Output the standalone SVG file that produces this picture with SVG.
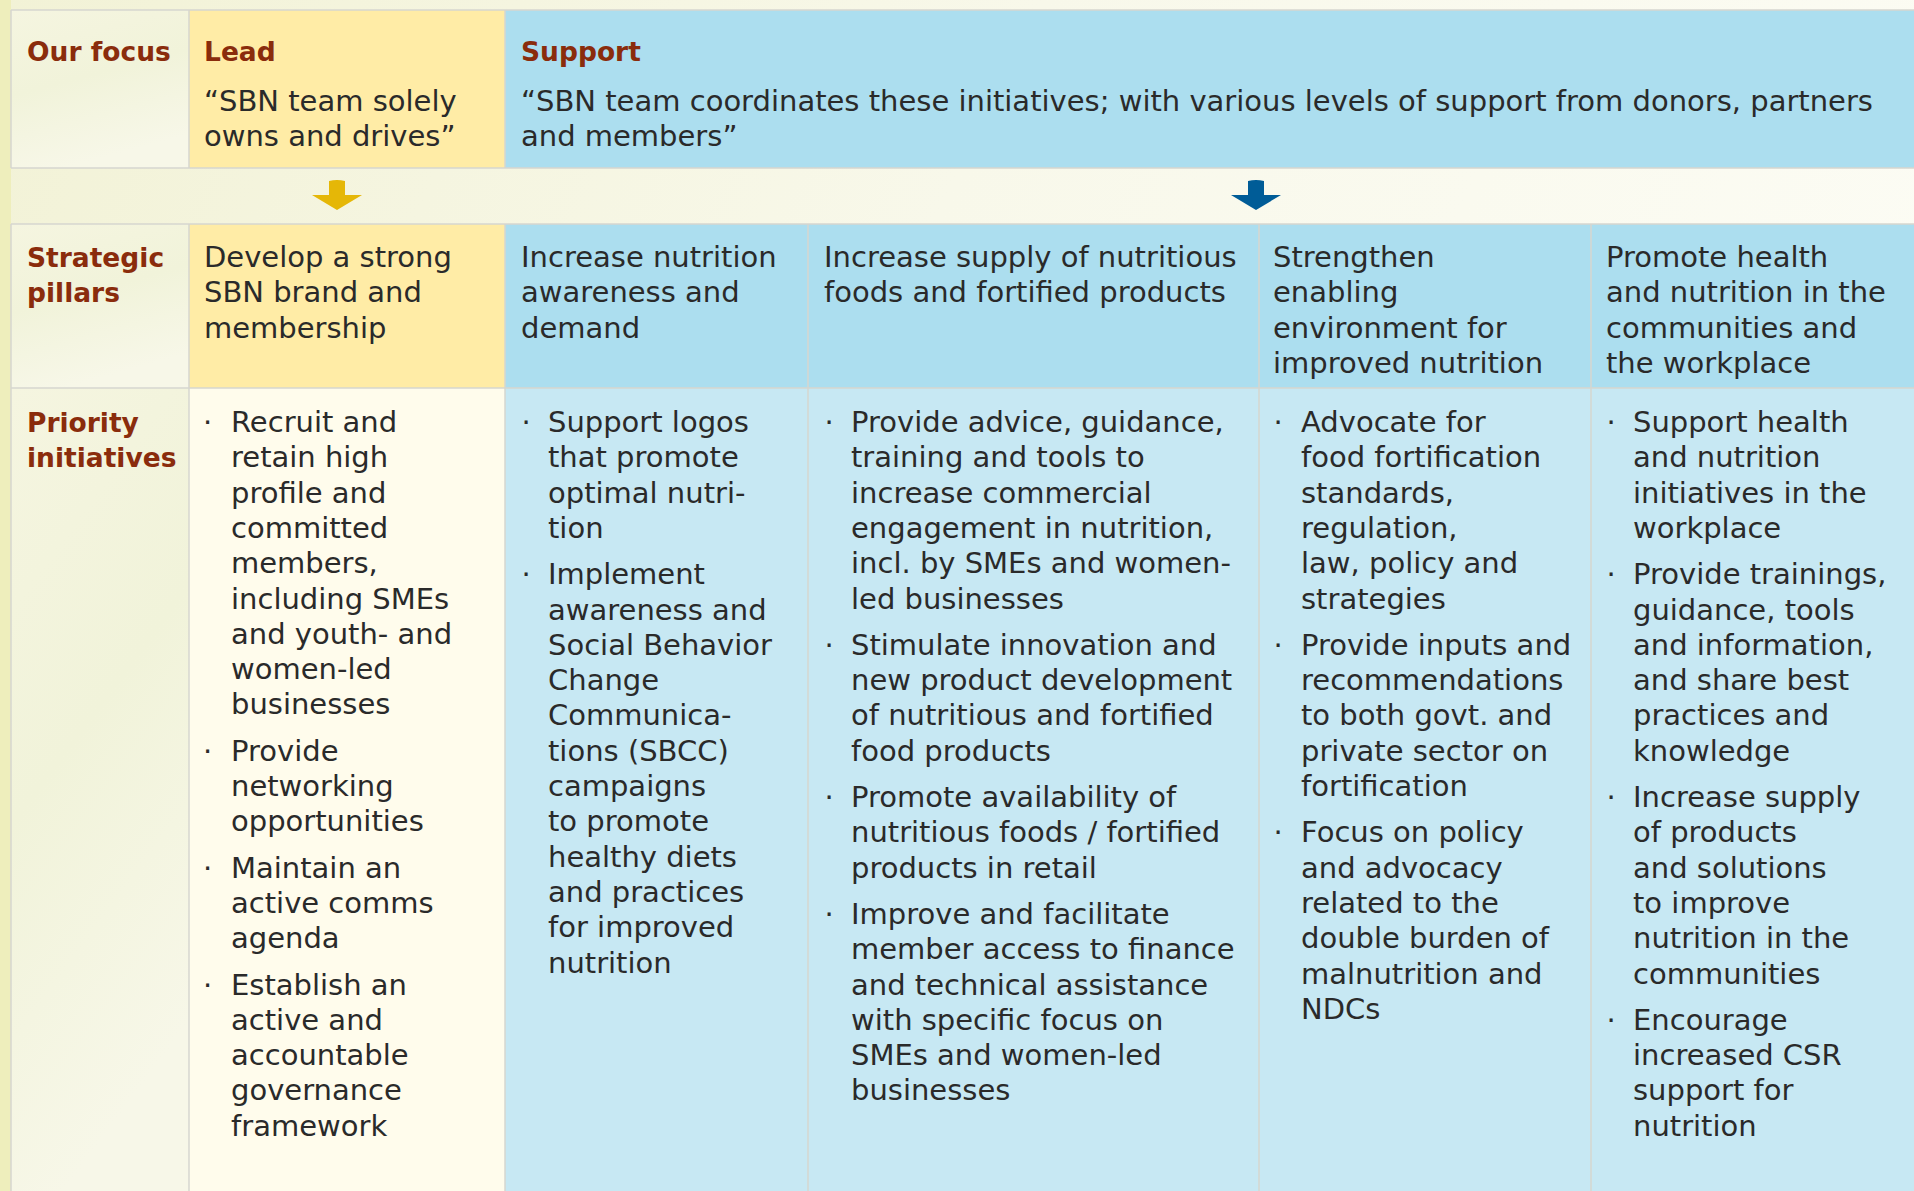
<svg xmlns="http://www.w3.org/2000/svg" width="1914" height="1191" viewBox="0 0 1914 1191">
<defs>
<linearGradient id="bg" x1="0" y1="0" x2="1" y2="0.3">
<stop offset="0" stop-color="#f2f2d6"/>
<stop offset="0.5" stop-color="#f8f8ea"/>
<stop offset="1" stop-color="#fcfcf4"/>
</linearGradient>
<linearGradient id="lab" x1="0" y1="0" x2="0.3" y2="1">
<stop offset="0" stop-color="#f5f5e0"/>
<stop offset="0.5" stop-color="#f1f3da"/>
<stop offset="1" stop-color="#f7f7e8"/>
</linearGradient>
<style>
.t{font-family:"DejaVu Sans",sans-serif;font-size:29px;fill:#2a2a2a}
.h{font-family:"DejaVu Sans",sans-serif;font-size:26.5px;font-weight:bold;fill:#8a2c0c}
.ln{stroke:#d6d6d0;stroke-width:1.5;fill:none}
.yh{fill:#ffeca6}
.yb{fill:#fffcec}
.bh{fill:#acdeef}
.bb{fill:#c7e8f3}
</style>
</defs>
<rect x="0" y="0" width="1914" height="1191" fill="url(#bg)"/>
<rect x="0" y="0" width="11" height="1191" fill="#eeeebc"/>

<g id="cells">
<rect x="11" y="10" width="178" height="158" fill="url(#lab)"/>
<rect x="11" y="224" width="178" height="164" fill="url(#lab)"/>
<rect x="11" y="388" width="178" height="803" fill="url(#lab)"/>
<rect class="yh" x="189" y="10" width="316" height="158"/>
<rect class="bh" x="505" y="10" width="1409" height="158"/>
<rect class="yh" x="189" y="224" width="316" height="164"/>
<rect class="bh" x="505" y="224" width="1409" height="164"/>
<rect class="yb" x="189" y="388" width="316" height="803"/>
<rect class="bb" x="505" y="388" width="1409" height="803"/>
</g>

<g id="connectors">
<path class="ln" d="M11 10H1914M11 168H1914M11 224H1914M11 388H1914M11 10V168M11 224V1191M189 10V168M189 224V1191M505 10V168M505 224V1191M808 224V1191M1259 224V1191M1591 224V1191"/>
<path id="arrow-lead" d="M329 181Q337 179 345 181V195H362L337 210L312 195H329Z" fill="#e5b707"/>
<path id="arrow-support" d="M1248 181Q1256 179 1264 181V195H1281L1256 210L1231 195H1248Z" fill="#005c97"/>
</g>

<g id="row-focus">
<text class="h" x="27" y="61">Our focus</text>
<g id="lead-head"><text class="h" x="204" y="61">Lead</text>
<text class="t" x="204" y="111">“SBN team solely</text>
<text class="t" x="204" y="146">owns and drives”</text></g>
<g id="support-head"><text class="h" x="521" y="61">Support</text>
<text class="t" x="521" y="111">“SBN team coordinates these initiatives; with various levels of support from donors, partners</text>
<text class="t" x="521" y="146">and members”</text></g>
</g>

<g id="row-pillars">
<text class="h" x="27" y="267">Strategic</text>
<text class="h" x="27" y="302">pillars</text>
<g id="p1"><text class="t" x="204" y="267">Develop a strong</text><text class="t" x="204" y="302">SBN brand and</text><text class="t" x="204" y="338">membership</text></g>
<g id="p2"><text class="t" x="521" y="267">Increase nutrition</text><text class="t" x="521" y="302">awareness and</text><text class="t" x="521" y="338">demand</text></g>
<g id="p3"><text class="t" x="824" y="267">Increase supply of nutritious</text><text class="t" x="824" y="302">foods and fortified products</text></g>
<g id="p4"><text class="t" x="1273" y="267">Strengthen</text><text class="t" x="1273" y="302">enabling</text><text class="t" x="1273" y="338">environment for</text><text class="t" x="1273" y="373">improved nutrition</text></g>
<g id="p5"><text class="t" x="1606" y="267">Promote health</text><text class="t" x="1606" y="302">and nutrition in the</text><text class="t" x="1606" y="338">communities and</text><text class="t" x="1606" y="373">the workplace</text></g>
</g>

<g id="row-initiatives">
<text class="h" x="27" y="432">Priority</text>
<text class="h" x="27" y="467">initiatives</text>

<g id="i1">
<text class="t" x="203" y="432">·</text>
<text class="t" x="231" y="432">Recruit and</text><text class="t" x="231" y="467.3">retain high</text><text class="t" x="231" y="502.6">profile and</text><text class="t" x="231" y="537.9">committed</text><text class="t" x="231" y="573.2">members,</text><text class="t" x="231" y="608.5">including SMEs</text><text class="t" x="231" y="643.8">and youth- and</text><text class="t" x="231" y="679.1">women-led</text><text class="t" x="231" y="714.4">businesses</text>
<text class="t" x="203" y="760.7">·</text>
<text class="t" x="231" y="760.7">Provide</text><text class="t" x="231" y="796">networking</text><text class="t" x="231" y="831.3">opportunities</text>
<text class="t" x="203" y="877.6">·</text>
<text class="t" x="231" y="877.6">Maintain an</text><text class="t" x="231" y="912.9">active comms</text><text class="t" x="231" y="948.2">agenda</text>
<text class="t" x="203" y="994.5">·</text>
<text class="t" x="231" y="994.5">Establish an</text><text class="t" x="231" y="1029.8">active and</text><text class="t" x="231" y="1065.1">accountable</text><text class="t" x="231" y="1100.4">governance</text><text class="t" x="231" y="1135.7">framework</text>
</g>

<g id="i2">
<text class="t" x="521.5" y="432">·</text>
<text class="t" x="548" y="432">Support logos</text><text class="t" x="548" y="467.3">that promote</text><text class="t" x="548" y="502.6">optimal nutri-</text><text class="t" x="548" y="537.9">tion</text>
<text class="t" x="521.5" y="584.2">·</text>
<text class="t" x="548" y="584.2">Implement</text><text class="t" x="548" y="619.5">awareness and</text><text class="t" x="548" y="654.8">Social Behavior</text><text class="t" x="548" y="690.1">Change</text><text class="t" x="548" y="725.4">Communica-</text><text class="t" x="548" y="760.7">tions (SBCC)</text><text class="t" x="548" y="796">campaigns</text><text class="t" x="548" y="831.3">to promote</text><text class="t" x="548" y="866.6">healthy diets</text><text class="t" x="548" y="901.9">and practices</text><text class="t" x="548" y="937.2">for improved</text><text class="t" x="548" y="972.5">nutrition</text>
</g>

<g id="i3">
<text class="t" x="824.5" y="432">·</text>
<text class="t" x="851" y="432">Provide advice, guidance,</text><text class="t" x="851" y="467.3">training and tools to</text><text class="t" x="851" y="502.6">increase commercial</text><text class="t" x="851" y="537.9">engagement in nutrition,</text><text class="t" x="851" y="573.2">incl. by SMEs and women-</text><text class="t" x="851" y="608.5">led businesses</text>
<text class="t" x="824.5" y="654.8">·</text>
<text class="t" x="851" y="654.8">Stimulate innovation and</text><text class="t" x="851" y="690.1">new product development</text><text class="t" x="851" y="725.4">of nutritious and fortified</text><text class="t" x="851" y="760.7">food products</text>
<text class="t" x="824.5" y="807">·</text>
<text class="t" x="851" y="807">Promote availability of</text><text class="t" x="851" y="842.3">nutritious foods / fortified</text><text class="t" x="851" y="877.6">products in retail</text>
<text class="t" x="824.5" y="923.9">·</text>
<text class="t" x="851" y="923.9">Improve and facilitate</text><text class="t" x="851" y="959.2">member access to finance</text><text class="t" x="851" y="994.5">and technical assistance</text><text class="t" x="851" y="1029.8">with specific focus on</text><text class="t" x="851" y="1065.1">SMEs and women-led</text><text class="t" x="851" y="1100.4">businesses</text>
</g>

<g id="i4">
<text class="t" x="1273.5" y="432">·</text>
<text class="t" x="1301" y="432">Advocate for</text><text class="t" x="1301" y="467.3">food fortification</text><text class="t" x="1301" y="502.6">standards,</text><text class="t" x="1301" y="537.9">regulation,</text><text class="t" x="1301" y="573.2">law, policy and</text><text class="t" x="1301" y="608.5">strategies</text>
<text class="t" x="1273.5" y="654.8">·</text>
<text class="t" x="1301" y="654.8">Provide inputs and</text><text class="t" x="1301" y="690.1">recommendations</text><text class="t" x="1301" y="725.4">to both govt. and</text><text class="t" x="1301" y="760.7">private sector on</text><text class="t" x="1301" y="796">fortification</text>
<text class="t" x="1273.5" y="842.3">·</text>
<text class="t" x="1301" y="842.3">Focus on policy</text><text class="t" x="1301" y="877.6">and advocacy</text><text class="t" x="1301" y="912.9">related to the</text><text class="t" x="1301" y="948.2">double burden of</text><text class="t" x="1301" y="983.5">malnutrition and</text><text class="t" x="1301" y="1018.8">NDCs</text>
</g>

<g id="i5">
<text class="t" x="1606.5" y="432">·</text>
<text class="t" x="1633" y="432">Support health</text><text class="t" x="1633" y="467.3">and nutrition</text><text class="t" x="1633" y="502.6">initiatives in the</text><text class="t" x="1633" y="537.9">workplace</text>
<text class="t" x="1606.5" y="584.2">·</text>
<text class="t" x="1633" y="584.2">Provide trainings,</text><text class="t" x="1633" y="619.5">guidance, tools</text><text class="t" x="1633" y="654.8">and information,</text><text class="t" x="1633" y="690.1">and share best</text><text class="t" x="1633" y="725.4">practices and</text><text class="t" x="1633" y="760.7">knowledge</text>
<text class="t" x="1606.5" y="807">·</text>
<text class="t" x="1633" y="807">Increase supply</text><text class="t" x="1633" y="842.3">of products</text><text class="t" x="1633" y="877.6">and solutions</text><text class="t" x="1633" y="912.9">to improve</text><text class="t" x="1633" y="948.2">nutrition in the</text><text class="t" x="1633" y="983.5">communities</text>
<text class="t" x="1606.5" y="1029.8">·</text>
<text class="t" x="1633" y="1029.8">Encourage</text><text class="t" x="1633" y="1065.1">increased CSR</text><text class="t" x="1633" y="1100.4">support for</text><text class="t" x="1633" y="1135.7">nutrition</text>
</g>
</g>
</svg>
